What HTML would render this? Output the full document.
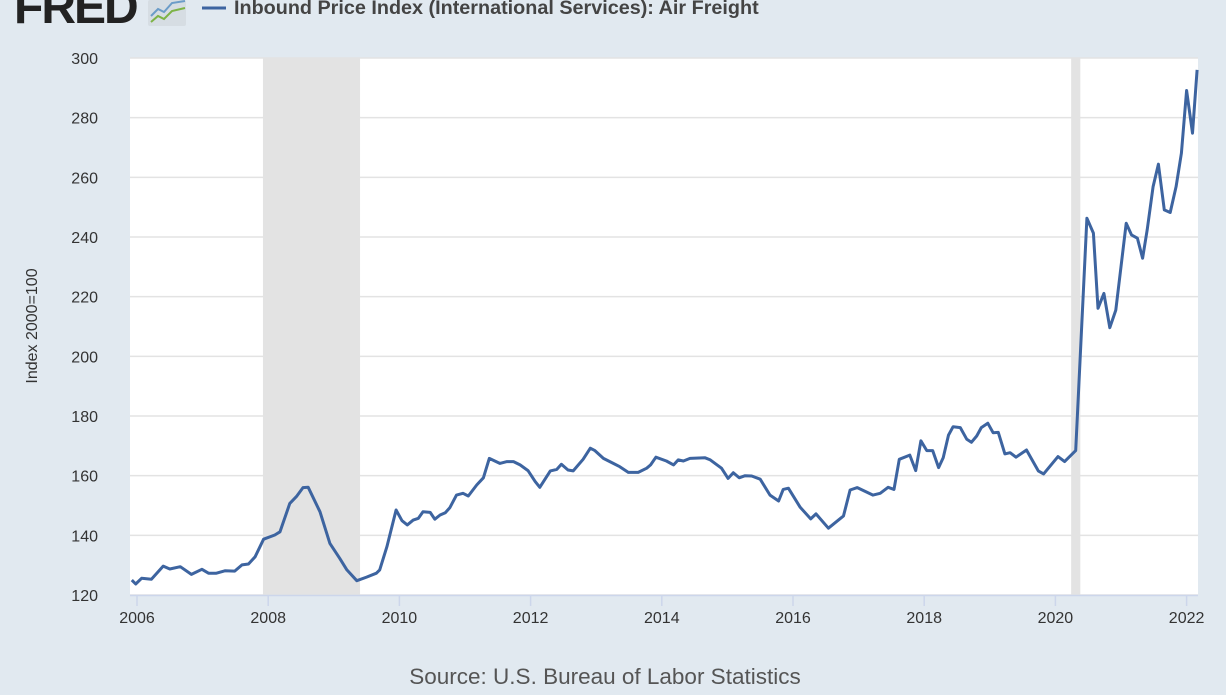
<!DOCTYPE html>
<html><head><meta charset="utf-8"><style>
body{margin:0;width:1226px;height:690px;overflow:hidden;background:#e1e9f0;font-family:"Liberation Sans",sans-serif;}
</style></head><body>
<svg id="c" width="1226" height="690" xmlns="http://www.w3.org/2000/svg">
<text x="14" y="23" font-size="48" font-weight="bold" fill="#222" letter-spacing="-2">FRED</text>
<g><rect x="148" y="0" width="38" height="26" fill="#d6dde3" rx="2"/><polyline points="151,16 158,9 164,12 172,3 185,1" fill="none" stroke="#6b9cc8" stroke-width="2"/><polyline points="151,22 158,16 164,19 172,11 185,8" fill="none" stroke="#7db346" stroke-width="2"/></g>
<line x1="202" y1="8" x2="226" y2="8" stroke="#3d64a0" stroke-width="3"/>
<text x="234" y="14" font-size="19.8" font-weight="bold" fill="#444">Inbound Price Index (International Services): Air Freight</text>
<rect x="130" y="58" width="1068" height="537" fill="#fff"/>
<g id="rec"></g><g id="grid"></g><g id="xt"></g>
<text transform="translate(37,326) rotate(-90)" text-anchor="middle" font-size="16" fill="#333">Index 2000=100</text>
<text x="605" y="684" text-anchor="middle" font-size="22.5" fill="#555">Source: U.S. Bureau of Labor Statistics</text>
<path id="line" fill="none" stroke="#3d64a0" stroke-width="3" stroke-linejoin="round"/>
</svg>
<script>
const dates=[2005.92,2005.98,2006.07,2006.22,2006.40,2006.50,2006.66,2006.83,2006.99,2007.09,2007.21,2007.34,2007.49,2007.60,2007.70,2007.80,2007.93,2008.10,2008.18,2008.33,2008.43,2008.53,2008.61,2008.79,2008.94,2009.09,2009.20,2009.35,2009.50,2009.65,2009.70,2009.81,2009.95,2010.04,2010.12,2010.21,2010.29,2010.36,2010.47,2010.54,2010.62,2010.70,2010.77,2010.87,2010.97,2011.05,2011.18,2011.28,2011.37,2011.53,2011.64,2011.74,2011.84,2011.96,2012.07,2012.14,2012.30,2012.40,2012.47,2012.57,2012.65,2012.80,2012.91,2012.98,2013.11,2013.26,2013.36,2013.49,2013.64,2013.77,2013.83,2013.91,2014.07,2014.18,2014.25,2014.33,2014.43,2014.66,2014.74,2014.91,2015.01,2015.09,2015.18,2015.27,2015.37,2015.50,2015.65,2015.78,2015.85,2015.93,2016.11,2016.27,2016.35,2016.54,2016.77,2016.87,2016.98,2017.22,2017.33,2017.45,2017.54,2017.62,2017.78,2017.87,2017.95,2018.04,2018.13,2018.22,2018.29,2018.37,2018.44,2018.55,2018.65,2018.72,2018.80,2018.87,2018.97,2019.05,2019.13,2019.23,2019.31,2019.40,2019.56,2019.74,2019.82,2020.04,2020.14,2020.31,2020.48,2020.58,2020.65,2020.74,2020.83,2020.92,2021.08,2021.16,2021.25,2021.33,2021.40,2021.49,2021.57,2021.66,2021.75,2021.84,2021.92,2022.00,2022.09,2022.16];
const values=[125.0,123.7,125.6,125.3,129.7,128.7,129.5,126.9,128.6,127.3,127.3,128.1,128.0,130.1,130.4,132.8,138.7,140.1,141.2,150.7,153,156,156.1,147.9,137.3,132.3,128.4,124.8,126,127.3,128.4,136.2,148.5,144.9,143.5,145.1,145.7,147.9,147.7,145.4,146.8,147.6,149.3,153.5,154.1,153.2,156.9,159.3,165.8,164.1,164.7,164.7,163.6,161.7,158,156.1,161.6,162.1,163.8,161.9,161.6,165.5,169.2,168.4,165.8,164.1,163,161.1,161.1,162.5,163.6,166.2,164.9,163.6,165.3,164.9,165.8,166,165.3,162.5,159.1,161,159.3,160,159.9,158.8,153.5,151.5,155.4,155.8,149.4,145.5,147.2,142.4,146.5,155.2,156,153.5,154.1,156.1,155.4,165.5,166.9,161.7,171.7,168.4,168.4,162.7,166,173.6,176.4,176.1,172.2,171.2,173.3,176.1,177.6,174.4,174.5,167.3,167.7,166.2,168.6,161.6,160.6,166.4,164.7,168.4,246.3,241.3,216.1,221.1,209.6,215.5,244.6,240.7,239.6,232.9,242.4,256.9,264.4,249.1,248.2,256.9,268.1,289.1,274.8,296];
const yTicks=[120,140,160,180,200,220,240,260,280,300];
const xTicks=[2006,2008,2010,2012,2014,2016,2018,2020,2022];
const recStart=[2007.92,2020.24];
const recEnd=[2009.40,2020.38];
const X=d=>137+(d-2006)*65.6, Y=v=>595-(v-120)*(537/180);
const NS="http://www.w3.org/2000/svg";
const mk=(t,a,p)=>{const e=document.createElementNS(NS,t);for(const k in a)e.setAttribute(k,a[k]);document.getElementById(p).appendChild(e);return e;};
recStart.forEach((s,i)=>{const r=mk('rect',{x:X(s),y:58,width:X(recEnd[i])-X(s),height:537,fill:'#e3e3e3'},'rec');

});
yTicks.forEach(v=>{const l=mk('line',{x1:130,x2:1198,y1:Y(v),y2:Y(v),stroke:'#e3e3e3','stroke-width':1.5},'grid');


const t=mk('text',{x:98,y:Y(v)+6,'text-anchor':'end','font-size':16,fill:'#333'},'grid');t.textContent=v;

});
mk('line',{x1:130,x2:1198,y1:595.5,y2:595.5,stroke:'#ccd6eb','stroke-width':1.5},'xt');
xTicks.forEach(d=>{const l=mk('line',{x1:X(d),x2:X(d),y1:595,y2:606,stroke:'#ccd6eb','stroke-width':1.5},'xt');


const t=mk('text',{x:X(d),y:623,'text-anchor':'middle','font-size':16,fill:'#333'},'xt');t.textContent=d;

});
document.getElementById('line').setAttribute('d',dates.map((d,i)=>(i?'L':'M')+X(d).toFixed(1)+','+Y(values[i]).toFixed(1)).join(''));
</script>
</body></html>
